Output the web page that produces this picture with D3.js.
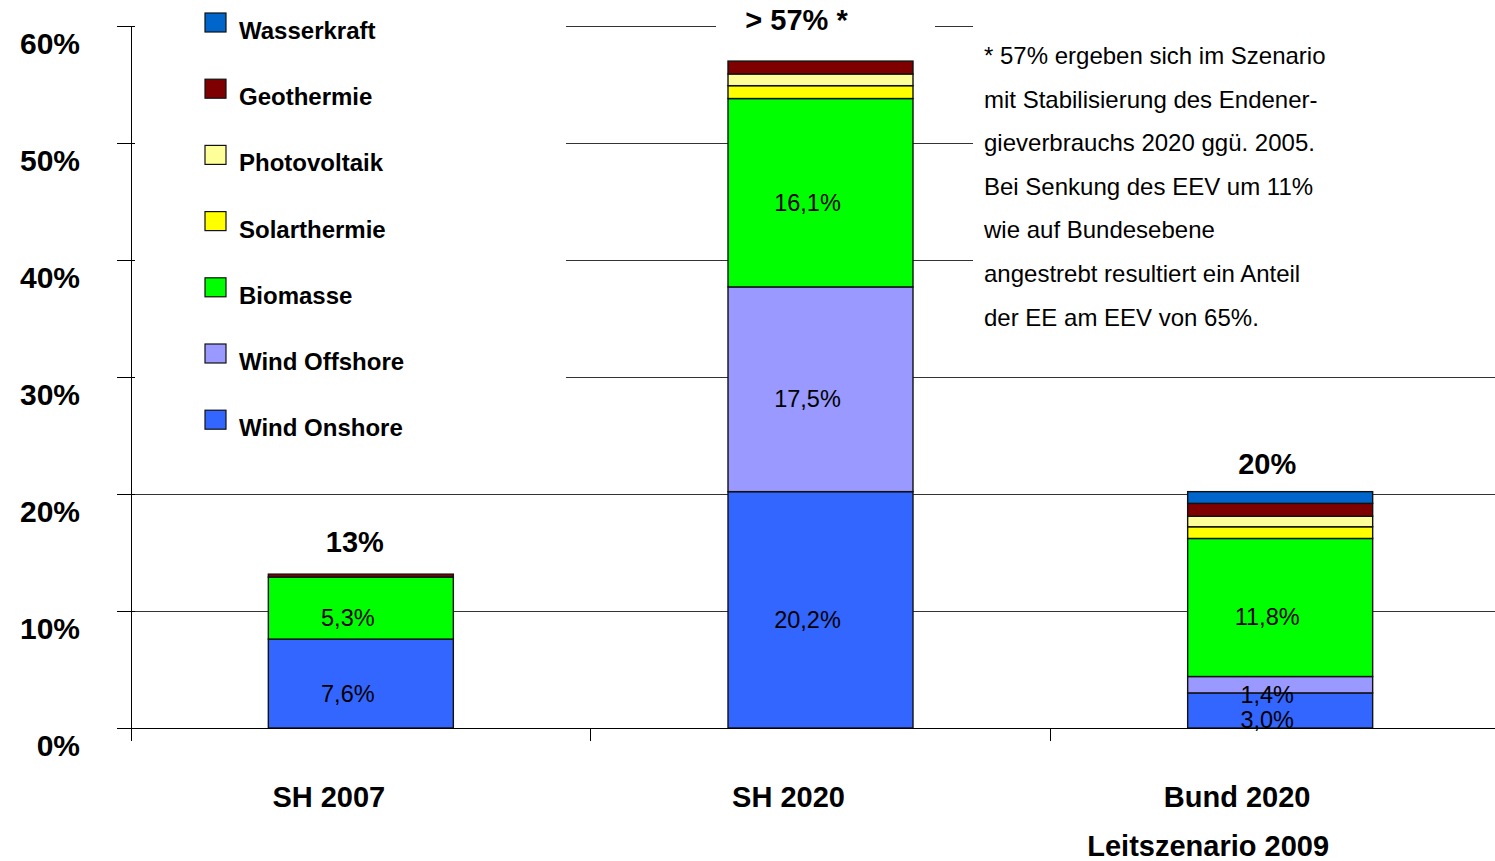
<!DOCTYPE html>
<html>
<head>
<meta charset="utf-8">
<script src="https://cdn.jsdelivr.net/npm/d3@7"></script>
<style>
html,body{margin:0;padding:0;background:#fff;}
svg{display:block;font-family:"Liberation Sans",Arial,sans-serif;}
</style>
</head>
<body>
<svg id="chart" width="1495" height="861"></svg>
<script>
// ---- data ----
const categories = ["SH 2007", "SH 2020", "Bund 2020"];
const categoryLines = [["SH 2007"], ["SH 2020"], ["Bund 2020", "Leitszenario 2009"]];
const seriesNames = ["Wind Onshore", "Wind Offshore", "Biomasse", "Solarthermie", "Photovoltaik", "Geothermie", "Wasserkraft"];
const windOnshore  = [7.6, 20.2, 3.0];
const windOffshore = [0.0, 17.5, 1.4];
const biomasse     = [5.3, 16.1, 11.8];
const solarthermie = [0.0, 1.1, 1.0];
const photovoltaik = [0.0, 1.0, 0.9];
const geothermie   = [0.25, 1.1, 1.1];
const wasserkraft  = [0.0, 0.0, 1.0];
const segmentLabels = [
  ["7,6%", "", "5,3%", "", "", "", ""],
  ["20,2%", "17,5%", "16,1%", "", "", "", ""],
  ["3,0%", "1,4%", "11,8%", "", "", "", ""]
];
const totalLabels = ["13%", "> 57% *", "20%"];
const yTicks = [0, 10, 20, 30, 40, 50, 60];
const yTickLabels = ["0%", "10%", "20%", "30%", "40%", "50%", "60%"];
const legendOrder = ["Wasserkraft", "Geothermie", "Photovoltaik", "Solarthermie", "Biomasse", "Wind Offshore", "Wind Onshore"];
const noteLines = [
  "* 57% ergeben sich im Szenario",
  "mit Stabilisierung des Endener-",
  "gieverbrauchs 2020 ggü. 2005.",
  "Bei Senkung des EEV um 11%",
  "wie auf Bundesebene",
  "angestrebt resultiert ein Anteil",
  "der EE am EEV von 65%."
];

// ---- styles ----
const colors = {
  "Wind Onshore": "#3366FF",
  "Wind Offshore": "#9999FF",
  "Biomasse": "#00FF00",
  "Solarthermie": "#FFFF00",
  "Photovoltaik": "#FFFF99",
  "Geothermie": "#7F0000",
  "Wasserkraft": "#0066CC"
};

const seriesValues = [windOnshore, windOffshore, biomasse, solarthermie, photovoltaik, geothermie, wasserkraft];
const table = categories.map((c, i) => {
  const row = {cat: c};
  seriesNames.forEach((s, j) => row[s] = seriesValues[j][i]);
  return row;
});

const svg = d3.select("#chart");
const x = d3.scaleBand().domain(categories).range([131, 1510]);
const y = d3.scaleLinear().domain([0, 60]).range([728, 26]);
const barW = 185;
const cx = c => x(c) + x.bandwidth() / 2;

// gridlines
svg.append("g").selectAll("line").data(yTicks.filter(t => t > 0)).join("line")
  .attr("x1", 131).attr("x2", 1495)
  .attr("y1", d => y(d)).attr("y2", d => y(d))
  .attr("stroke", "#333").attr("stroke-width", 1).attr("shape-rendering", "crispEdges");

// white masks (legend, title, note boxes)
svg.append("rect").attr("x", 132).attr("y", 0).attr("width", 434).attr("height", 450).attr("fill", "#fff");
svg.append("rect").attr("x", 716).attr("y", 0).attr("width", 219).attr("height", 45).attr("fill", "#fff");
svg.append("rect").attr("x", 973).attr("y", 0).attr("width", 522).attr("height", 345).attr("fill", "#fff");

// bars
const stack = d3.stack().keys(seriesNames)(table);
const gBars = svg.append("g");
stack.forEach((layer, j) => {
  gBars.selectAll(null).data(layer.filter(d => d[1] - d[0] > 0)).join("rect")
    .attr("x", d => cx(d.data.cat) - barW / 2)
    .attr("width", barW)
    .attr("y", d => y(d[1]))
    .attr("height", d => y(d[0]) - y(d[1]))
    .attr("fill", colors[layer.key])
    .attr("stroke", "#111").attr("stroke-width", 1.4);
});

// segment labels
stack.forEach((layer, j) => {
  layer.forEach((d, i) => {
    const lab = segmentLabels[i][j];
    if (!lab) return;
    svg.append("text")
      .attr("x", cx(d.data.cat) - 13)
      .attr("y", (y(d[0]) + y(d[1])) / 2 + 18)
      .attr("text-anchor", "middle")
      .attr("font-size", 23.5)
      .attr("fill", "#000")
      .text(lab);
  });
});

// total labels
const totals = table.map(r => d3.sum(seriesNames, s => r[s]));
const totalDx = [-6, -24, -13];
const totalOff = [22, 0, 18];
categories.forEach((c, i) => {
  svg.append("text")
    .attr("x", cx(c) + totalDx[i])
    .attr("y", i === 1 ? 30 : y(totals[i]) - totalOff[i])
    .attr("text-anchor", "middle")
    .attr("font-size", 29).attr("font-weight", "bold")
    .text(totalLabels[i]);
});

// axes
svg.append("line").attr("x1", 131).attr("x2", 131).attr("y1", y(60)).attr("y2", 741)
  .attr("stroke", "#000").attr("stroke-width", 1).attr("shape-rendering", "crispEdges");
svg.append("line").attr("x1", 117).attr("x2", 1495).attr("y1", y(0)).attr("y2", y(0))
  .attr("stroke", "#000").attr("stroke-width", 1).attr("shape-rendering", "crispEdges");
svg.append("g").selectAll("line").data(yTicks).join("line")
  .attr("x1", 117).attr("x2", 135).attr("y1", d => y(d)).attr("y2", d => y(d))
  .attr("stroke", "#000").attr("stroke-width", 1).attr("shape-rendering", "crispEdges");
svg.append("g").selectAll("line").data(categories).join("line")
  .attr("x1", d => x(d)).attr("x2", d => x(d)).attr("y1", y(0)).attr("y2", 741)
  .attr("stroke", "#000").attr("stroke-width", 1).attr("shape-rendering", "crispEdges");

// y tick labels
svg.append("g").selectAll("text").data(yTicks).join("text")
  .attr("x", 80).attr("y", d => y(d) + 28)
  .attr("text-anchor", "end")
  .attr("font-size", 30).attr("font-weight", "bold")
  .text((d, i) => yTickLabels[i]);

// category labels
const catDx = [[-32], [-32], [-43, -72]];
categoryLines.forEach((lines, i) => {
  lines.forEach((t, k) => {
    svg.append("text")
      .attr("x", cx(categories[i]) + catDx[i][k])
      .attr("y", 807 + k * 49)
      .attr("text-anchor", "middle")
      .attr("font-size", 29).attr("font-weight", "bold")
      .text(t);
  });
});

// legend
const lg = svg.append("g");
legendOrder.forEach((name, i) => {
  const yy = 13 + i * 66.2;
  lg.append("rect").attr("x", 205).attr("y", yy).attr("width", 21).attr("height", 19)
    .attr("fill", colors[name]).attr("stroke", "#111").attr("stroke-width", 1.2);
  lg.append("text").attr("x", 239).attr("y", yy + 26)
    .attr("font-size", 24).attr("font-weight", "bold").text(name);
});

// note
noteLines.forEach((t, i) => {
  svg.append("text").attr("x", 984).attr("y", 64 + i * 43.6)
    .attr("font-size", 24).text(t);
});
</script>
</body>
</html>
